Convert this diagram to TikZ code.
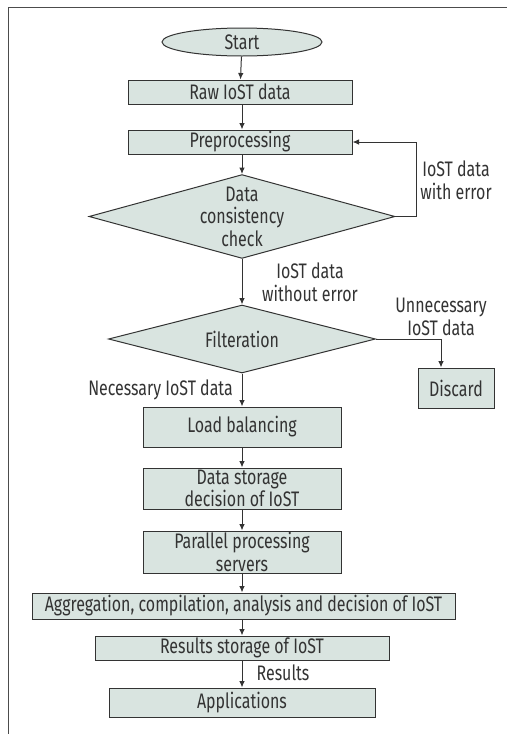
\documentclass[tikz,border=0pt]{standalone}
\usepackage{fontspec}
\setmainfont{Fira Sans}[FakeStretch=0.76]
\usepackage{xcolor}
\usepackage{tikz}
\usetikzlibrary{calc,arrows.meta,shapes}

\definecolor{boxfill}{HTML}{D9E4E0}
\definecolor{inkgray}{HTML}{333333}

\begin{document}
\begin{tikzpicture}[font=\fontsize{21}{22.5}\selectfont,x=1pt,y=-1pt,>={Latex[length=6.5pt,width=5.5pt]},color=inkgray]
    \tikzstyle{blk}=[draw=inkgray,fill=boxfill,line width=1pt,inner sep=0pt,align=center]
    \tikzstyle{dmd}=[blk,diamond,aspect=3.5]
    \tikzstyle{lbl}=[align=center,inner sep=0pt]
    \tikzstyle{flow}=[->,line width=1pt]

    \useasboundingbox (0,0) rectangle (507,734);
    \draw[gray!60!black,line width=1.2pt] (8.5,734) -- (8.5,7.5) -- (507,7.5);

    \node[blk,ellipse,minimum width=160,minimum height=28] (start) at (242,42) {Start};
    \node[blk,minimum width=224,minimum height=24] (raw) at (240,92) {Raw IoST data};
    \node[blk,minimum width=224,minimum height=24] (prep) at (240,142) {Preprocessing};
    \node[dmd,minimum width=306,minimum height=78] (chk) at (242,216.5) {Data\\consistency\\check};
    \node[dmd,minimum width=267,minimum height=68] (filt) at (242,339) {Filteration};
    \node[blk,minimum width=76,minimum height=40] (disc) at (456,388) {Discard};
    \node[blk,minimum width=198,minimum height=40] (load) at (242,427) {Load balancing};
    \node[blk,minimum width=198,minimum height=41] (store) at (242,488.5) {Data storage\\decision of IoST};
    \node[blk,minimum width=198,minimum height=42] (par) at (242,552) {Parallel processing\\servers};
    \node[blk,minimum width=423,minimum height=26] (agg) at (243.5,606) {Aggregation, compilation, analysis and decision of IoST};
    \node[blk,minimum width=294,minimum height=24] (res) at (242,648) {Results storage of IoST};
    \node[blk,minimum width=266,minimum height=29] (apps) at (242,702.5) {Applications};

    \node[lbl] (errlbl) at (456,180) {IoST data\\with error};
    \node[lbl] (okflbl) at (310,282) {IoST data\\without error};
    \node[lbl] (unnlbl) at (441,317) {Unnecessary\\IoST data};
    \node[lbl,anchor=east] (neclbl) at (233,390) {Necessary IoST data};
    \node[lbl] (reslbl) at (283,673) {Results};

    \draw[flow] (start) -- (raw);
    \draw[flow] (raw.south -| start.south) -- (prep.north -| start.north);
    \draw[flow] (prep.south -| start.south) -- (chk.north);
    \draw[flow] (chk.east) -- ++(21,0) |- (prep.east);
    \draw[flow] (chk.south) -- (filt.north);
    \draw[flow] (filt.east) -| ([xshift=-15pt]disc.north);
    \draw[flow] (filt.south) -- (load.north);
    \draw[flow] (load) -- (store);
    \draw[flow] (store) -- (par);
    \draw[flow] (par.south) -- (agg.north -| par.south);
    \draw[flow] (agg.south -| res.north) -- (res.north);
    \draw[flow] (res) -- (apps);
  \end{tikzpicture}
\end{document}
